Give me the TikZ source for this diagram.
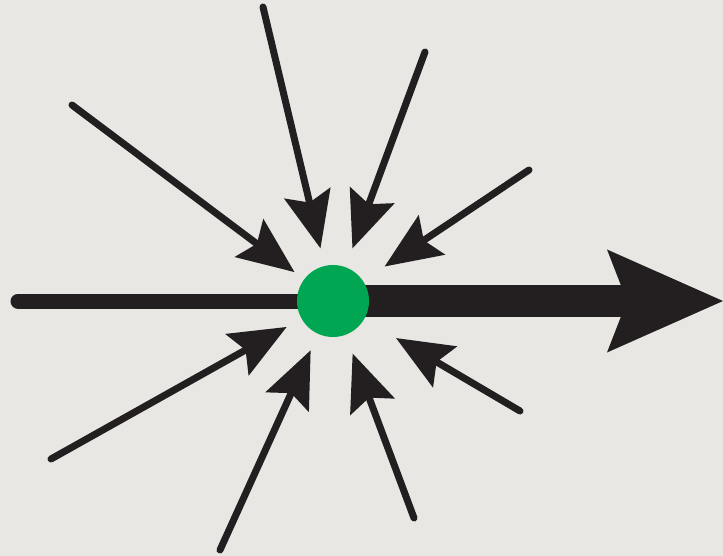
\documentclass[tikz,border=0pt]{standalone}
\usepackage{tikz}
\usetikzlibrary{arrows.meta,backgrounds}
\definecolor{ink}{HTML}{231F20}
\definecolor{spotgreen}{HTML}{00A651}
\definecolor{paper}{HTML}{E8E7E3}
\pgfdeclarelayer{paperlayer}
\pgfsetlayers{paperlayer,background,main}

\begin{document}
\begin{tikzpicture}[
          x=1pt, y=-1pt,
          spot/.style={circle, fill=spotgreen, minimum size=72pt, inner sep=0pt},
          axis/.style={draw=ink, line width=15pt, line cap=round},
          push/.style={draw=ink, line width=32pt,
                      -{Stealth[length=116pt, width=103pt, inset=20pt, line width=0pt]}},
          pull/.style={draw=ink, line width=7pt, line cap=round,
                       -{Stealth[length=57pt, width=48pt, inset=10pt, line width=0pt]}}
        ]
        \begin{pgfonlayer}{paperlayer}
          \fill[paper] (0,0) rectangle (723,556);
        \end{pgfonlayer}
        \useasboundingbox (0,0) rectangle (723,556);
        \node[spot] (dot) at (333,301) {};
        \coordinate (start) at (18,301);
        \coordinate (end) at (723,301);
        % incoming arrows
        \coordinate (a1) at (72,105);
        \coordinate (a2) at (263,7);
        \coordinate (a3) at (425,52);
        \coordinate (a4) at (529,170);
        \coordinate (a5) at (51,459);
        \coordinate (a6) at (220,550);
        \coordinate (a7) at (414,518);
        \coordinate (a8) at (520,411);
        \begin{scope}[on background layer]
          \draw[axis] (start) -- (dot.center);
          \draw[push] (dot.center) -- (end);
          \draw[pull, shorten >=12pt] (a1) -- (dot);
          \draw[pull, shorten >=18pt] (a2) -- (dot);
          \draw[pull, shorten >=20pt] (a3) -- (dot);
          \draw[pull, shorten >=26pt] (a4) -- (dot);
          \draw[pull, shorten >=17pt] (a5) -- (dot);
          \draw[pull, shorten >=18pt] (a6) -- (dot);
          \draw[pull, shorten >=20pt] (a7) -- (dot);
          \draw[pull, shorten >=37pt] (a8) -- (dot);
        \end{scope}
      \end{tikzpicture}
\end{document}
